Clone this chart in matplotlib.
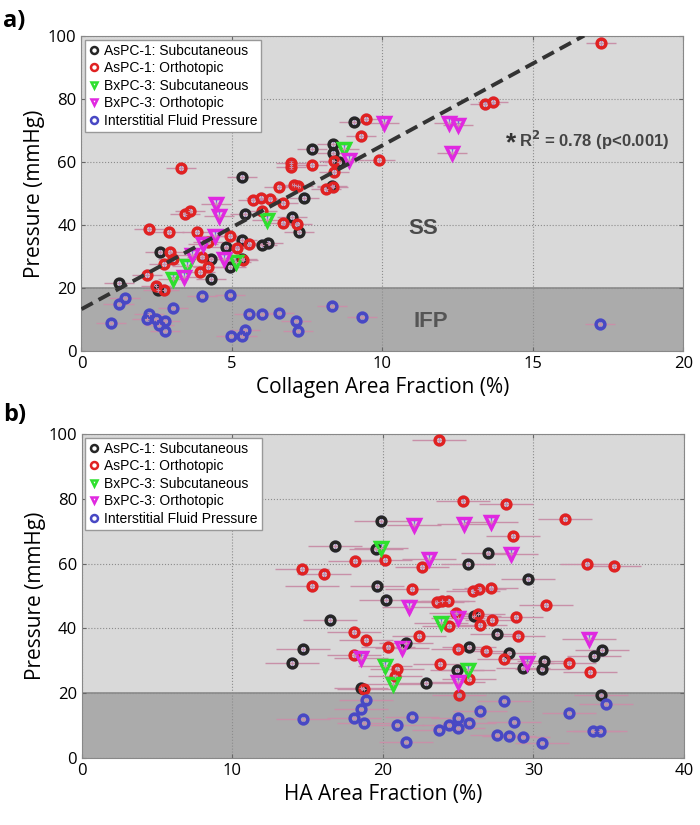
import matplotlib.pyplot as plt
from matplotlib.lines import Line2D

plt.rcParams['font.family'] = ['Open Sans', 'DejaVu Sans']

# ---- panel a: collagen area fraction (%) vs pressure (mmHg)
a_black_x = [1.25, 2.6, 2.55, 4.3, 4.3, 4.8, 4.95, 5.34, 5.34, 5.32, 5.43, 6.0, 6.2,
             7.0, 7.22, 7.4, 7.67, 8.34, 8.34, 8.55, 8.31, 9.04]
a_black_y = [21.5, 31.3, 19.5, 29.1, 23.0, 32.9, 26.6, 35.2, 29.3, 55.1, 43.5, 33.8, 34.2,
             42.6, 37.9, 48.7, 64.0, 65.6, 63.0, 60.0, 52.4, 72.8]

a_red_x = [2.17, 2.25, 2.47, 2.75, 2.75, 2.9, 2.93, 3.04, 3.3, 3.43, 3.62, 3.84, 3.95,
           4.02, 4.2, 4.21, 4.92, 5.17, 5.36, 5.56, 5.7, 5.98, 5.99, 6.26, 6.56, 6.68,
           6.7, 6.96, 6.97, 7.06, 7.2, 7.15, 7.65, 8.12, 8.34, 8.38, 8.4, 9.3, 9.44, 9.9,
           13.4, 13.68, 17.25]
a_red_y = [24.2, 38.7, 20.8, 19.4, 27.5, 37.8, 31.6, 29.2, 58.0, 43.5, 44.5, 37.8, 25.0,
           30.0, 26.7, 34.5, 36.4, 32.8, 28.9, 34.0, 47.8, 48.7, 44.6, 48.4, 52.2, 40.8,
           46.9, 59.6, 58.4, 52.8, 52.4, 40.4, 59.0, 51.6, 52.0, 56.9, 60.4, 68.3, 73.6, 60.8,
           78.3, 79.1, 97.9]

a_green_x = [3.04, 3.52, 5.12, 6.17, 8.72]
a_green_y = [22.9, 27.0, 28.2, 41.6, 64.2]

a_magenta_x = [3.42, 3.67, 4.05, 4.45, 4.46, 4.57, 4.75, 8.88, 10.06, 12.2, 12.52, 12.32]
a_magenta_y = [23.5, 30.6, 34.0, 36.6, 46.8, 43.0, 29.3, 60.8, 72.4, 72.5, 71.7, 63.0]

a_blue_x = [0.99, 1.23, 1.43, 2.18, 2.23, 2.47, 2.58, 2.78, 2.78, 3.03, 4.0, 4.93, 4.97,
            5.34, 5.43, 5.56, 5.99, 6.56, 7.14, 7.18, 8.33, 9.31, 17.22]
a_blue_y = [8.8, 14.9, 16.7, 10.2, 11.7, 10.1, 8.3, 9.6, 6.4, 13.6, 17.4, 17.9, 4.8,
            4.9, 6.7, 11.7, 11.7, 12.0, 9.6, 6.3, 14.3, 10.8, 8.6]

# linear fit shown in panel a
fit_intercept = 13.3
fit_slope = 5.2
fit_x = [0, 16.7]

# ---- panel b: HA area fraction (%) vs pressure (mmHg)
b_black_x = [13.95, 14.7, 16.48, 16.81, 18.52, 19.53, 19.58, 19.89, 20.2, 21.55, 22.86,
             24.9, 25.63, 25.71, 26.07, 27.0, 27.55, 28.37, 29.33, 29.61, 30.72, 30.59,
             34.02, 34.57, 34.46]
b_black_y = [29.3, 33.6, 42.7, 65.5, 21.7, 64.5, 53.2, 73.1, 48.8, 35.4, 23.3,
             27.2, 60.0, 34.2, 43.7, 63.3, 38.3, 32.4, 27.9, 55.3, 29.8, 27.4,
             31.6, 33.2, 19.5]

b_red_x = [14.6, 15.3, 16.08, 18.07, 18.14, 18.1, 18.76, 18.85, 20.15, 20.36, 20.8, 20.93,
           21.95, 22.41, 22.59, 23.57, 23.72, 23.81, 23.94, 24.3, 24.4, 24.85, 24.96, 25.03,
           25.3, 25.7, 26.0, 26.4, 26.33, 26.45, 26.84, 27.16, 27.22, 28.06, 28.17, 28.66,
           28.82, 28.99, 30.83, 32.1, 32.36, 33.58, 33.75, 35.35]
b_red_y = [58.3, 53.2, 56.9, 39.0, 60.7, 31.9, 21.2, 36.4, 61.0, 34.3, 25.3, 27.6,
           52.2, 37.8, 59.0, 48.2, 98.1, 29.0, 48.5, 48.6, 40.6, 44.9, 33.8, 19.5,
           79.4, 24.4, 51.7, 52.1, 44.5, 41.1, 32.9, 52.6, 42.7, 30.5, 78.5, 68.4,
           43.5, 37.7, 47.1, 73.9, 29.3, 59.8, 26.7, 59.4]

b_green_x = [19.85, 20.13, 20.64, 23.83, 25.67]
b_green_y = [64.8, 28.4, 22.9, 41.8, 27.2]

b_magenta_x = [18.54, 21.28, 21.75, 22.06, 23.08, 25.0, 25.0, 25.4, 27.18, 28.5, 29.55, 33.71]
b_magenta_y = [30.8, 33.9, 46.6, 72.0, 61.4, 43.2, 23.6, 72.2, 72.9, 63.0, 29.3, 36.7]

b_blue_x = [14.71, 18.07, 18.54, 18.76, 18.86, 20.95, 21.53, 21.95, 23.7, 24.39, 25.0, 25.0,
            25.71, 26.45, 27.6, 28.06, 28.4, 29.33, 28.68, 30.59, 32.36, 33.98, 34.42, 34.82]
b_blue_y = [12.0, 12.3, 15.1, 10.7, 18.0, 10.2, 5.0, 12.6, 8.7, 10.2, 12.3, 9.4,
            10.7, 14.6, 7.0, 17.7, 6.8, 6.6, 11.1, 4.7, 13.8, 8.4, 8.4, 16.6]

labels = ['AsPC-1: Subcutaneous', 'AsPC-1: Orthotopic', 'BxPC-3: Subcutaneous',
          'BxPC-3: Orthotopic', 'Interstitial Fluid Pressure']
colors = ['#262626', '#e02222', '#2ee02e', '#e028e0', '#4848c4']
markers = ['o', 'o', 'v', 'v', 'o']
xerr_col = '#c890a8'
yerr_col = '#6a6ae8'


def draw_series(ax, x, y, xe, ye, color, marker):
    ax.errorbar(x, y, xerr=xe, fmt='none', ecolor=xerr_col, elinewidth=1, capsize=0, zorder=2)
    ax.errorbar(x, y, yerr=ye, fmt='none', ecolor=yerr_col, elinewidth=0.9, capsize=1.5, zorder=2)
    ms = 8 if marker == 'v' else 6.3
    ax.plot(x, y, ls='none', marker=marker, ms=ms, mfc='none', mec=color, mew=2.5, zorder=3)
    ax.plot(x, y, ls='none', marker='+', ms=3, color=xerr_col, mew=0.8, zorder=4)


def style_axes(ax, xmax, xstep):
    ax.set_facecolor('#d9d9d9')
    ax.axhspan(0, 20, color='#ababab', zorder=0.2, lw=0)
    ax.axhline(20, color='#8a8a8a', lw=1.2, zorder=0.3)
    ax.set_xlim(0, xmax)
    ax.set_ylim(0, 100)
    ax.set_xticks(range(0, xmax + 1, xstep))
    ax.set_yticks(range(0, 101, 20))
    ax.grid(True, ls=':', color='#8c8c8c', lw=0.8)
    ax.tick_params(direction='in', length=3, labelsize=12, top=True, right=True, color='#666666')
    for s in ax.spines.values():
        s.set_color('#888888')
        s.set_linewidth(0.8)
    ax.set_ylabel('Pressure (mmHg)', fontsize=15, labelpad=2)
    handles = [Line2D([], [], ls='none', marker=m, ms=5, mfc='none', mec=c, mew=1.8)
               for m, c in zip(markers, colors)]
    leg = ax.legend(handles, labels, loc='upper left', handlelength=0.7,
                    handletextpad=0.35, borderpad=0.3, labelspacing=0.25, borderaxespad=0.25,
                    fancybox=False, framealpha=1, prop={'family': 'Liberation Sans', 'size': 10})
    leg.get_frame().set_edgecolor('#999999')
    leg.set_zorder(10)


fig = plt.figure(figsize=(7, 8.25), dpi=100)
ax1 = fig.add_axes([0.1164, 0.5745, 0.86, 0.3818])
ax2 = fig.add_axes([0.1171, 0.0812, 0.86, 0.3927])

# panel a
style_axes(ax1, 20, 5)
series_a = [(a_black_x, a_black_y), (a_red_x, a_red_y), (a_green_x, a_green_y),
            (a_magenta_x, a_magenta_y), (a_blue_x, a_blue_y)]
for (x, y), c, m in zip(series_a, colors, markers):
    draw_series(ax1, x, y, 0.5, 1.5, c, m)
fit_y = [fit_intercept + fit_slope * v for v in fit_x]
ax1.plot(fit_x, fit_y, ls=(0, (3.3, 1.7)), color='#333333', lw=2.8, zorder=5)
ax1.set_xlabel('Collagen Area Fraction (%)', fontsize=15)
ax1.text(11.35, 39, 'SS', fontsize=16, fontweight='bold', color='#4a4a4a',
         ha='center', va='center', family='Liberation Sans')
ax1.text(11.6, 9.3, 'IFP', fontsize=16, fontweight='bold', color='#555555',
         ha='center', va='center', family='Liberation Sans')
ax1.text(14.27, 66.0, '*', fontsize=19, fontweight='bold', color='#333333',
         ha='center', va='center', family='Liberation Sans')
ax1.text(14.55, 67, r'R$^\mathbf{2}$ = 0.78 (p<0.001)', fontsize=12, fontweight='bold',
         color='#444444', ha='left', va='center', family='Liberation Sans')
fig.text(0.004, 0.975, 'a)', fontsize=17, fontweight='bold', va='center')

# panel b
style_axes(ax2, 40, 10)
series_b = [(b_black_x, b_black_y), (b_red_x, b_red_y), (b_green_x, b_green_y),
            (b_magenta_x, b_magenta_y), (b_blue_x, b_blue_y)]
for (x, y), c, m in zip(series_b, colors, markers):
    draw_series(ax2, x, y, 1.8, 1.5, c, m)
ax2.set_xlabel('HA Area Fraction (%)', fontsize=15)
fig.text(0.004, 0.497, 'b)', fontsize=17, fontweight='bold', va='center')

fig.savefig('out.png', dpi=100)
